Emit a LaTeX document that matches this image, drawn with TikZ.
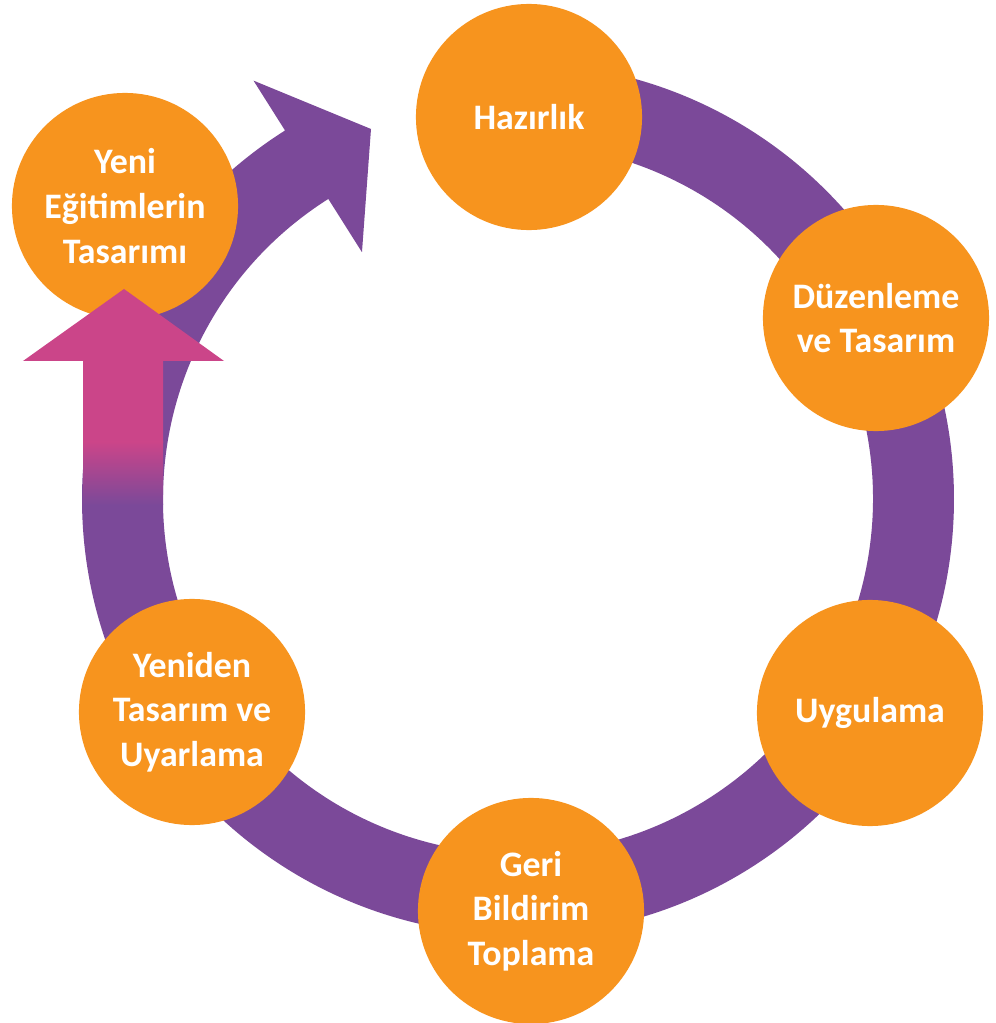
\documentclass[tikz,border=0pt]{standalone}
\usepackage{fontspec}
\setmainfont{Carlito}
\definecolor{ringpurple}{RGB}{123,73,153}
\definecolor{stageorange}{RGB}{247,148,30}
\definecolor{backpink}{RGB}{203,69,137}

\begin{document}
\begin{tikzpicture}[x=0.01cm, y=0.01cm]

\tikzstyle stage=[circle, fill=stageorange, minimum size=2.26cm, inner sep=0pt, text=white, align=center, font=\fontsize{10.2}{12.7}\selectfont\bfseries]

\useasboundingbox (0,0) rectangle (996,1023);

\coordinate (c) at (518,524);
\coordinate (tip) at (371,894);

\fill[ringpurple] ([shift={(90:436)}]c) arc[start angle=90, end angle=-237.7, radius=436]
  -- ([shift={(122.3:495)}]c) -- (tip) -- ([shift={(122.3:292)}]c)
  -- ([shift={(122.3:355)}]c) arc[start angle=-237.7, end angle=90, radius=355] -- cycle;

\node (haz) [stage] at (529,906) {Hazırlık};
\node (duz) [stage] at (876,705) {Düzenleme\\ve Tasarım};
\node (uyg) [stage] at (870,310) {Uygulama};
\node (geri) [stage] at (531,112) {Geri\\Bildirim\\Toplama};
\node (yen) [stage] at (192,311) {Yeniden\\Tasarım ve\\Uyarlama};
\node (yeni) [stage] at (125,817) {Yeni\\Eğitimlerin\\Tasarımı};

\coordinate (back) at (123,518);
\fill[backpink] (83,580) -- (83,662) -- (23,662) -- (124,734) -- (224,662) -- (163,662) -- (163,580) -- cycle;
\shade[top color=backpink, bottom color=ringpurple] (back) ++(-40,0) rectangle ++(80,63);

\end{tikzpicture}
\end{document}
